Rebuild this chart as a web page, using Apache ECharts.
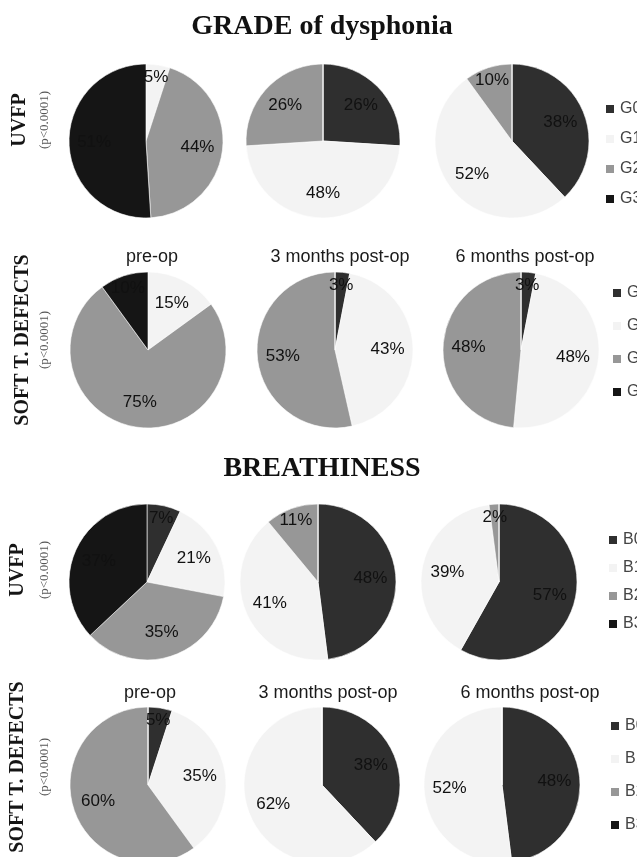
<!DOCTYPE html>
<html>
<head>
<meta charset="utf-8">
<script src="https://cdn.jsdelivr.net/npm/echarts@6/dist/echarts.min.js"></script>
<style>
html, body { margin: 0; padding: 0; background: #fff; }
#main { width: 637px; height: 857px; }
</style>
</head>
<body>
<div id="main"></div>
<script>
// categories
var gradeNames = ['G0', 'G1', 'G2', 'G3'];
var breathNames = ['B0', 'B1', 'B2', 'B3'];
var stages = ['pre-op', '3 months post-op', '6 months post-op'];

// percentages per pie: pre-op, 3 months, 6 months
var gradeUvfp = [[0, 5, 44, 51], [26, 48, 26, 0], [38, 52, 10, 0]];
var gradeSoft = [[0, 15, 75, 10], [3, 43, 53, 0], [3, 48, 48, 0]];
var breathUvfp = [[7, 21, 35, 37], [48, 41, 11, 0], [57, 39, 2, 0]];
var breathSoft = [[5, 35, 60, 0], [38, 62, 0, 0], [48, 52, 0, 0]];

var greys = ['#2f2f2f', '#f3f3f3', '#979797', '#151515'];

// layout of the four rows
var rows = [
	{ data: gradeUvfp, names: gradeNames, cx: [146, 323, 512], cy: 141, r: 77, legendX: 599, legendY: 96, gap: 14 },
	{ data: gradeSoft, names: gradeNames, cx: [148, 335, 521], cy: 350, r: 78, legendX: 606, legendY: 280, gap: 17, titleY: 257, titleX: [152, 340, 525] },
	{ data: breathUvfp, names: breathNames, cx: [147, 318, 499], cy: 582, r: 78, legendX: 602, legendY: 527, gap: 12 },
	{ data: breathSoft, names: breathNames, cx: [148, 322, 502], cy: 785, r: 78, legendX: 604, legendY: 713, gap: 17, titleY: 693, titleX: [150, 328, 530] }
];

var series = [];
var legends = [];
var graphics = [];

// push the inside labels outwards, small slices nearer the rim
function makeLayout(cx, cy, values) {
	return function(p) {
		var rc = p.labelRect;
		var lx = rc.x + rc.width / 2, ly = rc.y + rc.height / 2;
		var k = values[p.dataIndex] < 12 ? 1.55 : 1.25;
		return { x: cx + (lx - cx) * k, y: cy + (ly - cy) * k };
	};
}

rows.forEach(function(row) {
	row.data.forEach(function(vals, i) {
		series.push({
			type: 'pie',
			center: [row.cx[i], row.cy],
			radius: [0, row.r],
			startAngle: 90,
			clockwise: true,
			animation: false,
			silent: true,
			itemStyle: { borderColor: '#fff', borderWidth: 0.6 },
			label: {
				position: 'inside',
				fontFamily: 'Liberation Sans',
				fontSize: 17,
				color: '#111',
				formatter: function(p) { return p.value ? p.value + '%' : ''; }
			},
			labelLine: { show: false },
			labelLayout: makeLayout(row.cx[i], row.cy, vals),
			data: vals.map(function(v, j) {
				return { name: row.names[j], value: v, itemStyle: { color: greys[j] } };
			})
		});
		if (row.titleY) {
			graphics.push({
				type: 'text', x: row.titleX[i], y: row.titleY,
				style: { text: stages[i], font: '18px "Liberation Sans"', fill: '#1a1a1a', textAlign: 'center', textVerticalAlign: 'middle', align: 'center', verticalAlign: 'middle' }
			});
		}
	});
	legends.push({
		data: row.names,
		orient: 'vertical',
		left: row.legendX,
		top: row.legendY,
		itemWidth: 10,
		itemHeight: 10,
		itemGap: row.gap,
		icon: 'rect',
		selectedMode: false,
		textStyle: { fontFamily: 'Liberation Sans', fontSize: 16, color: '#444' }
	});
});

// main titles and row headers
var titles = [
	{ text: 'GRADE of dysphonia', y: 27 },
	{ text: 'BREATHINESS', y: 469 }
];
titles.forEach(function(t) {
	graphics.push({
		type: 'text', x: 322, y: t.y,
		style: { text: t.text, font: 'bold 28px "Liberation Serif"', fill: '#111', textAlign: 'center', textVerticalAlign: 'middle', align: 'center', verticalAlign: 'middle' }
	});
});

var headers = [
	{ text: 'UVFP', x: 20, y: 120, p: '(p<0.0001)' },
	{ text: 'SOFT T. DEFECTS', x: 23, y: 340, p: '(p<0.0001)' },
	{ text: 'UVFP', x: 18, y: 570, p: '(p<0.0001)' },
	{ text: 'SOFT T. DEFECTS', x: 18, y: 767, p: '(p<0.0001)' }
];
headers.forEach(function(h) {
	graphics.push({
		type: 'text', x: h.x, y: h.y, rotation: Math.PI / 2,
		style: { text: h.text, font: 'bold 20px "Liberation Serif"', fill: '#151515', textAlign: 'center', textVerticalAlign: 'middle', align: 'center', verticalAlign: 'middle' }
	});
	graphics.push({
		type: 'text', x: 45, y: h.y, rotation: Math.PI / 2,
		style: { text: h.p, font: '13px "Liberation Serif"', fill: '#555', textAlign: 'center', textVerticalAlign: 'middle', align: 'center', verticalAlign: 'middle' }
	});
});

var myChart = echarts.init(document.getElementById('main'));
myChart.setOption({
	backgroundColor: '#fff',
	legend: legends,
	series: series,
	graphic: graphics
});
</script>
</body>
</html>
